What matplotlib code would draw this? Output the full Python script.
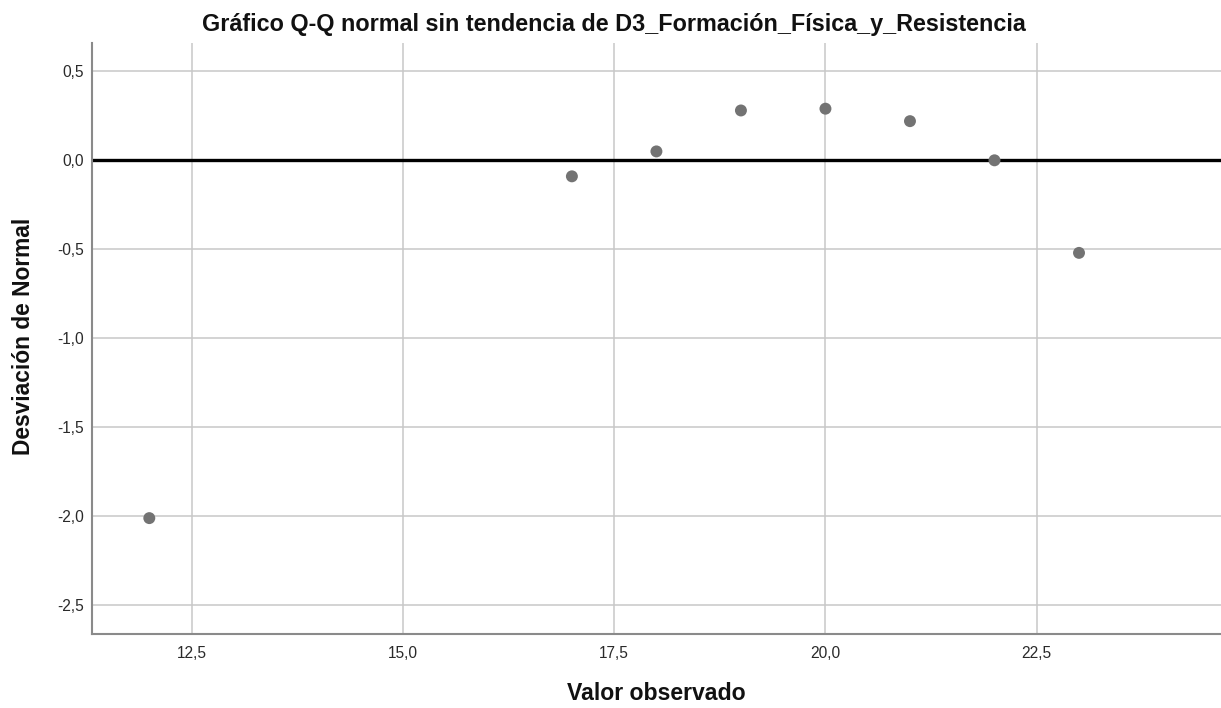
import matplotlib
matplotlib.use("Agg")
import matplotlib.pyplot as plt
from matplotlib.ticker import FuncFormatter

observed = [12, 17, 18, 19, 20, 21, 22, 23]
deviation = [-2.01, -0.09, 0.05, 0.28, 0.29, 0.22, 0.0, -0.52]
xticks = [12.5, 15.0, 17.5, 20.0, 22.5]
yticks = [0.5, 0.0, -0.5, -1.0, -1.5, -2.0, -2.5]

plt.rcParams['font.family'] = ['Liberation Sans', 'DejaVu Sans']
fig = plt.figure(figsize=(12.21, 7.08), dpi=100)
ax = fig.add_axes([92/1221, 1-634/708, 1-92/1221, (634-43)/708])
ax.set_xlim(11.322, 24.68)
ax.set_ylim(-2.661, 0.659)
ax.set_xticks(xticks)
ax.set_yticks(yticks)
fmt = FuncFormatter(lambda v, p: f"{v:.1f}".replace('.', ','))
ax.xaxis.set_major_formatter(fmt)
ax.yaxis.set_major_formatter(fmt)
ax.grid(True, color='#c8c8c8', linewidth=1.1)
ax.set_axisbelow(True)
ax.axhline(0, color='black', linewidth=2.4, zorder=2)
ax.scatter(observed, deviation, s=74, color='#737373', zorder=3, edgecolors='none')
for s in ['top', 'right']:
    ax.spines[s].set_visible(False)
for s in ['left', 'bottom']:
    ax.spines[s].set_color('#8a8a8a')
    ax.spines[s].set_linewidth(1.5)
ax.tick_params(length=0, labelsize=11.2, colors='#2a2a2a')
ax.tick_params(axis='y', pad=6)
ax.tick_params(axis='x', pad=9)
fig.text(614/1221, 1-25/708, 'Gráfico Q-Q normal sin tendencia de D3_Formación_Física_y_Resistencia',
         ha='center', va='center', fontsize=16.8, fontweight='bold', color='#111111')
fig.text(656/1221, 1-693/708, 'Valor observado', ha='center', va='center',
         fontsize=16.6, fontweight='bold', color='#111111')
fig.text(24/1221, 1-336/708, 'Desviación de Normal', ha='center', va='center',
         rotation=90, fontsize=16.4, fontweight='bold', color='#111111')
fig.savefig('out.png', dpi=100)
